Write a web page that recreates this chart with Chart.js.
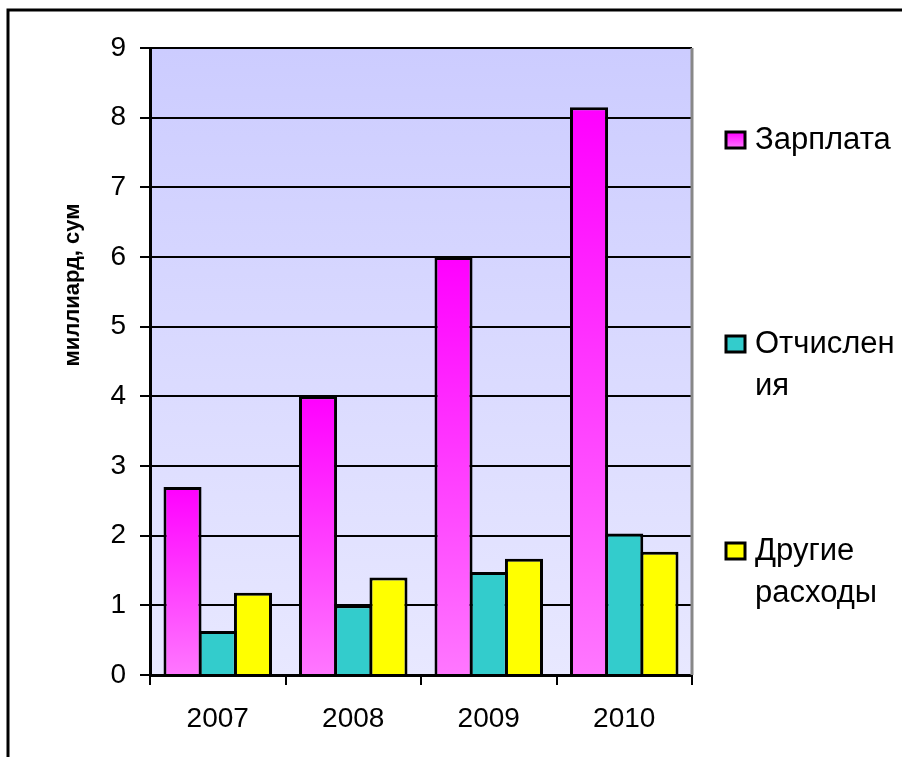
<!DOCTYPE html>
<html>
<head>
<meta charset="utf-8">
<script src="https://cdn.jsdelivr.net/npm/chart.js@4/dist/chart.umd.min.js"></script>
<style>
  html, body { margin: 0; padding: 0; background: #fff; }
  #wrap { position: relative; width: 902px; height: 757px; }
</style>
</head>
<body>
<div id="wrap"><canvas id="chart"></canvas></div>
<script>
// data
const years = ['2007', '2008', '2009', '2010'];
const salary = [2.7, 4.0, 6.0, 8.15];
const deductions = [0.63, 1.0, 1.48, 2.03];
const otherCosts = [1.18, 1.4, 1.67, 1.77];
const seriesNames = ['Зарплата', 'Отчисления', 'Другие расходы'];
const legendLines = [['Зарплата'], ['Отчислен', 'ия'], ['Другие', 'расходы']];
const yTitle = 'миллиард, сум';

const FONT = 'Arial, "Liberation Sans", sans-serif';

// pink bars fade from magenta at the top to light pink at the base
const pinkFill = (c) => {
    const chart = c.chart;
    if (!chart.chartArea || c.raw === undefined) return '#ff33ff';
    const y = chart.scales.y;
    const top = y.getPixelForValue(c.raw);
    const base = y.getPixelForValue(0);
    const g = chart.ctx.createLinearGradient(0, top, 0, base);
    g.addColorStop(0, '#ff00ff');
    g.addColorStop(1, '#ff77ff');
    return g;
};

const decor = {
    id: 'decor',
    beforeDraw(chart) {
        const { ctx, chartArea: a } = chart;
        ctx.save();
        ctx.fillStyle = '#fff';
        ctx.fillRect(0, 0, chart.width, chart.height);
        const g = ctx.createLinearGradient(0, a.top, 0, a.bottom);
        g.addColorStop(0, '#ccccff');
        g.addColorStop(1, '#e8e8ff');
        ctx.fillStyle = g;
        ctx.fillRect(a.left, a.top, a.right - a.left, a.bottom - a.top);
        ctx.restore();
    },
    afterDraw(chart) {
        const { ctx, chartArea: a } = chart;
        ctx.save();
        // gray right edge of the plot
        ctx.strokeStyle = '#888';
        ctx.lineWidth = 3;
        ctx.beginPath();
        ctx.moveTo(a.right, a.top);
        ctx.lineTo(a.right, a.bottom);
        ctx.stroke();

        // outer frame (left and top only visible)
        ctx.strokeStyle = '#000';
        ctx.lineWidth = 3;
        ctx.beginPath();
        ctx.moveTo(8, chart.height + 5);
        ctx.lineTo(8, 10);
        ctx.lineTo(chart.width + 5, 10);
        ctx.stroke();

        // y axis title
        ctx.fillStyle = '#000';
        ctx.font = 'bold 22px ' + FONT;
        ctx.textAlign = 'center';
        ctx.textBaseline = 'middle';
        ctx.translate(73, 285);
        ctx.rotate(-Math.PI / 2);
        ctx.fillText(yTitle, 0, 0);
        ctx.setTransform(1, 0, 0, 1, 0, 0);
        ctx.restore();

        // legend
        ctx.save();
        const ys = [140, 344, 551];
        ctx.font = '31px ' + FONT;
        ctx.textAlign = 'left';
        ctx.textBaseline = 'middle';
        chart.data.datasets.forEach((ds, i) => {
            const cy = ys[i];
            let fill = ds.legendColor;
            if (i === 0) {
                const g = ctx.createLinearGradient(0, cy - 8, 0, cy + 8);
                g.addColorStop(0, '#ff00ff');
                g.addColorStop(1, '#ff77ff');
                fill = g;
            }
            ctx.fillStyle = fill;
            ctx.fillRect(726, cy - 8, 19, 16);
            ctx.strokeStyle = '#000';
            ctx.lineWidth = 3;
            ctx.strokeRect(726, cy - 8, 19, 16);
            ctx.fillStyle = '#000';
            legendLines[i].forEach((line, k) => {
                ctx.fillText(line, 755, cy + k * 42);
            });
        });
        ctx.restore();
    }
};

new Chart(document.getElementById('chart'), {
    type: 'bar',
    data: {
        labels: years,
        datasets: [
            {
                label: seriesNames[0],
                data: salary,
                backgroundColor: pinkFill,
                legendColor: '#ff55ff',
                borderColor: '#000',
                borderWidth: 3,
                borderSkipped: 'bottom'
            },
            {
                label: seriesNames[1],
                data: deductions,
                backgroundColor: '#33cccc',
                legendColor: '#33cccc',
                borderColor: '#000',
                borderWidth: 3,
                borderSkipped: 'bottom'
            },
            {
                label: seriesNames[2],
                data: otherCosts,
                backgroundColor: '#ffff00',
                legendColor: '#ffff00',
                borderColor: '#000',
                borderWidth: 3,
                borderSkipped: 'bottom'
            }
        ]
    },
    options: {
        responsive: true,
        maintainAspectRatio: false,
        animation: false,
        devicePixelRatio: 1,
        categoryPercentage: 0.78,
        barPercentage: 1.08,
        layout: { padding: { top: 48, right: 210, bottom: 0, left: 0 } },
        plugins: {
            legend: { display: false },
            tooltip: { enabled: false }
        },
        scales: {
            x: {
                afterFit: (s) => { s.height = 82; },
                grid: {
                    drawOnChartArea: false,
                    drawTicks: true,
                    tickLength: 10,
                    color: '#000',
                    lineWidth: 2
                },
                border: { color: '#000', width: 3 },
                ticks: {
                    color: '#000',
                    font: { family: FONT, size: 28 },
                    padding: 17
                }
            },
            y: {
                min: 0,
                max: 9,
                afterFit: (s) => { s.width = 150; },
                grid: {
                    color: '#000',
                    lineWidth: 2,
                    tickLength: 10
                },
                border: { color: '#000', width: 3 },
                ticks: {
                    stepSize: 1,
                    color: '#000',
                    font: { family: FONT, size: 28 },
                    padding: 14
                }
            }
        }
    },
    plugins: [decor]
});
</script>
</body>
</html>
